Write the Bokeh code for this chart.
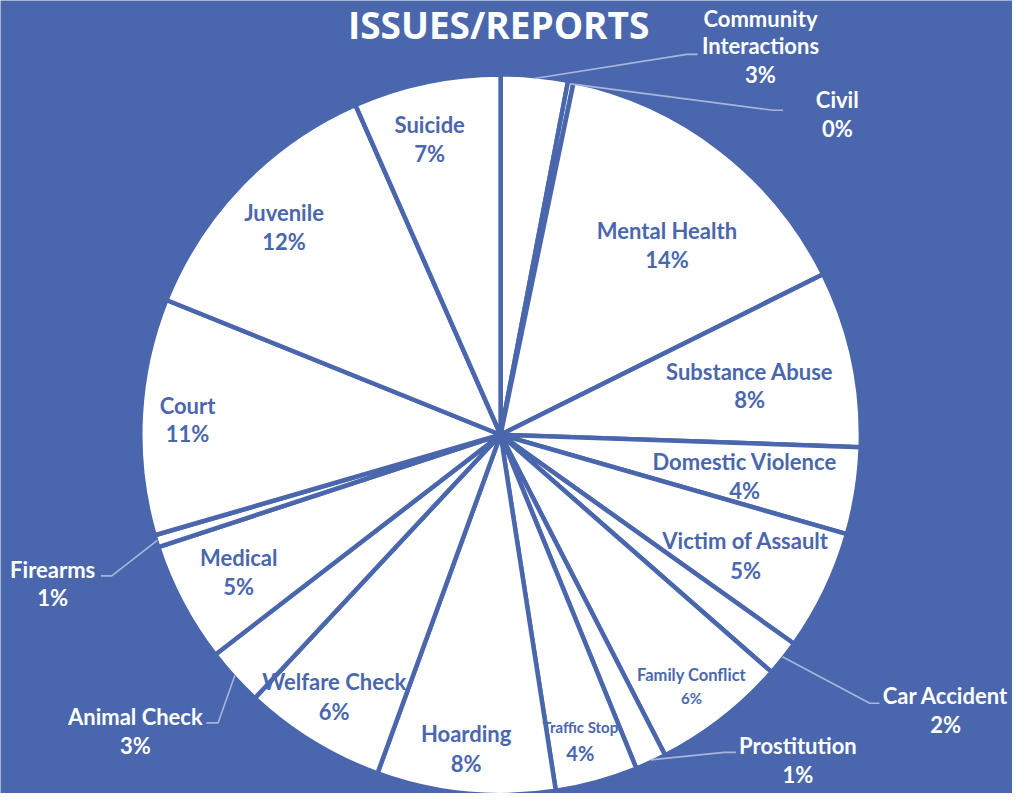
import math
from bokeh.plotting import figure
from bokeh.models import Range1d
from bokeh.core.properties import value
from bokeh.embed import file_html
from bokeh.resources import INLINE

# ---------------- data ----------------
categories = ["Community Interactions", "Civil", "Mental Health", "Substance Abuse",
              "Domestic Violence", "Victim of Assault", "Car Accident", "Family Conflict",
              "Prostitution", "Traffic Stop", "Hoarding", "Welfare Check", "Animal Check",
              "Medical", "Firearms", "Court", "Juvenile", "Suicide"]
shares = [3.0, 0.25, 14.4, 7.9, 3.9, 5.4, 1.6, 6.0, 1.4, 3.7, 8.0, 6.4, 2.6, 5.4,
          0.55, 10.6, 12.3, 6.6]
title_text = "ISSUES/REPORTS"

# ---------------- layout / style ----------------
BG = "#4A67AD"
TXT_BLUE = "#4A67AD"
LEADER = "#A7B6DA"
FONT = "Lato"
W, H = 1012, 793
CX, CY, R = 508, 443, 366          # in reference pixel coords (y down)

def Y(y):                            # reference pixel y -> data y
    return 809 - y

# label centres (reference px): x, name line y, pct line y
inside = {
    "Mental Health": (677, 235, 264),
    "Substance Abuse": (761, 378, 407),
    "Domestic Violence": (756, 470, 500),
    "Victim of Assault": (757, 551, 581),
    "Hoarding": (473, 748, 778),
    "Welfare Check": (339, 695, 725),
    "Medical": (242, 568, 598),
    "Court": (190, 413, 442),
    "Juvenile": (288, 216, 246),
    "Suicide": (436, 126, 156),
}
inside_small = {   # name size, pct size
    "Family Conflict": (702, 688, 712, "16.5px", "15px"),
    "Traffic Stop": (589, 741, 768, "15px", "20px"),
}
outside = {
    "Civil": (850, 101, 131),
    "Car Accident": (960, 709, 739),
    "Prostitution": (810, 760, 790),
    "Animal Check": (137, 730, 760),
    "Firearms": (53, 580, 609),
}
# leader elbows and ends (reference px)
leaders = {
    "Community Interactions": [(697, 55), (708, 55)],
    "Civil": [(785, 112), (795, 112)],
    "Car Accident": [(883, 717), (893, 717)],
    "Prostitution": [(735, 767), (747, 767)],
    "Animal Check": [(221, 737), (209, 737)],
    "Firearms": [(113, 587), (102, 587)],
}

total = sum(shares)
pcts = [f"{int(s / total * 100 + 0.5)}%" for s in shares]
starts, ends, mids = [], [], {}
acc = 0.0
for name, s in zip(categories, shares):
    f = s / total
    a0 = acc * 2 * math.pi
    a1 = (acc + f) * 2 * math.pi
    starts.append(math.pi / 2 - a0)
    ends.append(math.pi / 2 - a1)
    mids[name] = (a0 + a1) / 2
    acc += f

p = figure(width=W, height=H, output_backend="svg", toolbar_location=None,
           x_range=Range1d(0, 1028), y_range=Range1d(0, 809),
           min_border=0, background_fill_color=BG, border_fill_color=BG,
           outline_line_color=None)
p.axis.visible = False
p.grid.visible = False

p.wedge(x=[CX] * len(shares), y=[Y(CY)] * len(shares), radius=R,
        start_angle=starts, end_angle=ends, direction="clock",
        fill_color="white", line_color=BG, line_width=4.5)

# leader lines
for name, pts in leaders.items():
    a = mids[name]
    sx = CX + (R - 1) * math.sin(a)
    sy = CY - (R - 1) * math.cos(a)
    xs = [sx] + [q[0] for q in pts]
    ys = [Y(sy)] + [Y(q[1]) for q in pts]
    p.line(xs, ys, line_color=LEADER, line_width=1.6)

idx = {n: i for i, n in enumerate(categories)}

def put(x, y, txt, size, color, font=FONT):
    p.text(x=[x], y=[Y(y)], text=[txt], text_align="center", text_baseline="middle",
           text_font=value(font), text_font_style="bold", text_font_size=size,
           text_color=color)

for n, (x, y1, y2) in inside.items():
    put(x, y1, n, "22px", TXT_BLUE)
    put(x, y2, pcts[idx[n]], "22px", TXT_BLUE)
for n, (x, y1, y2, s1, s2) in inside_small.items():
    put(x, y1, n, s1, TXT_BLUE)
    put(x, y2, pcts[idx[n]], s2, TXT_BLUE)
for n, (x, y1, y2) in outside.items():
    put(x, y1, n, "22px", "white")
    put(x, y2, pcts[idx[n]], "22px", "white")
# two-line outside label
put(772, 18, "Community", "22px", "white")
put(772, 46, "Interactions", "22px", "white")
put(772, 76, pcts[idx["Community Interactions"]], "22px", "white")

# title
put(506, 24, title_text, "37px", "white", font="Open Sans")

html = file_html(p, INLINE)
html = html.replace("<body>", '<body style="background:%s;">' % BG, 1)
open("out.html", "w").write(html)
